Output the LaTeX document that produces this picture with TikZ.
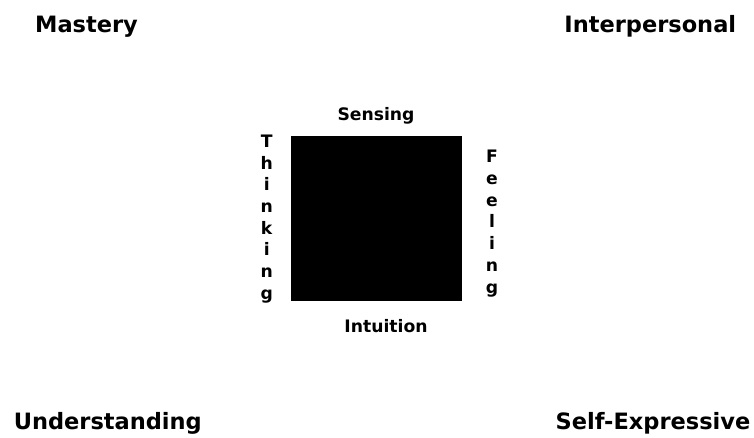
\documentclass[tikz,border=0pt]{standalone}
\usepackage{fontspec}
\setmainfont{DejaVu Sans}
\usetikzlibrary{positioning}
\tikzset{
	quad/.style={font=\bfseries\fontsize{22.5}{26}\selectfont, anchor=base, inner sep=0pt},
	fn/.style={font=\bfseries\fontsize{17.2}{21.7}\selectfont, inner sep=0pt},
	vfn/.style={fn, align=center},
	core/.style={fill=black, inner sep=0pt, minimum width=171pt, minimum height=165pt},
}

\begin{document}
\begin{tikzpicture}[x=1pt, y=-1pt]
	\useasboundingbox (0,0) rectangle (754,437);
	% the four corners
	\node[quad] at (86.5,32.3) (mas) {Mastery};
	\node[quad] at (650.3,32.3) (int) {Interpersonal};
	\node[quad] at (107.8,429.3) (und) {Understanding};
	\node[quad] at (653.0,429.3) (sel) {Self-Expressive};
	% the centre square and its four sides
	\node[core] at (376.5,218.5) (sq) {};
	\node[fn, anchor=base] at (376.0,120.7) (sen) {Sensing};
	\node[fn, anchor=base] at (386.0,332.5) (intu) {Intuition};
	\node[vfn] at (266.7,219.0) (thi) {T\\h\\i\\n\\k\\i\\n\\g};
	\node[vfn] at (492.0,223.5) (fee) {F\\e\\e\\l\\i\\n\\g};
\end{tikzpicture}
\end{document}
